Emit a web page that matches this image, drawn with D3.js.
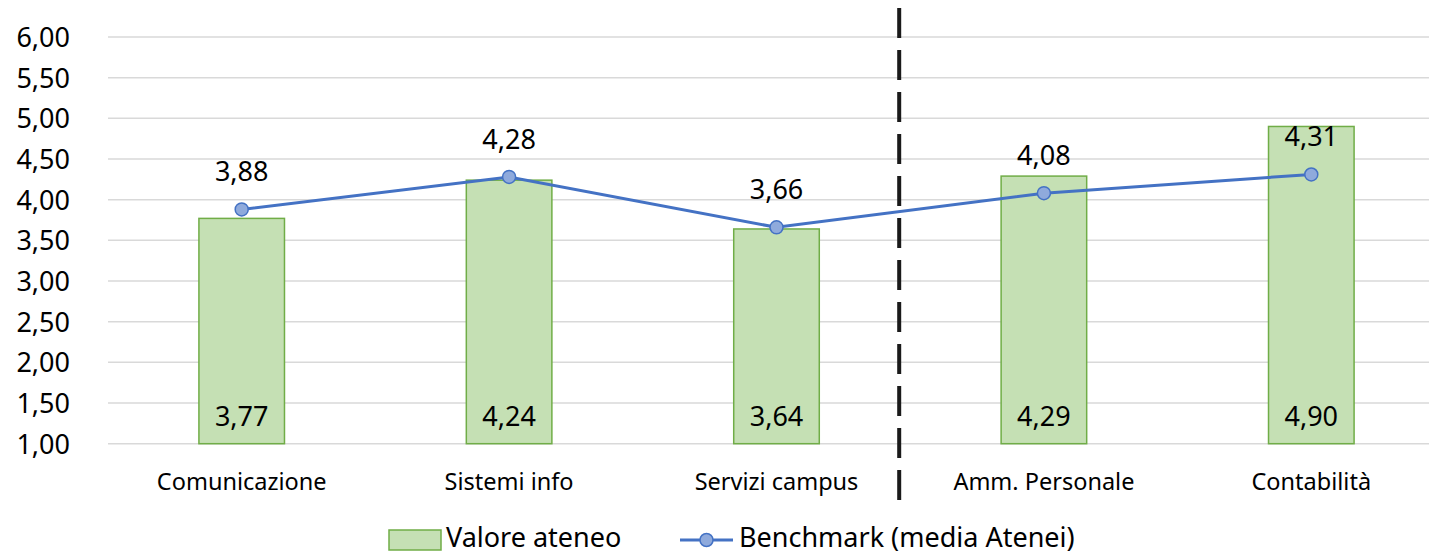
<!DOCTYPE html>
<html><head><meta charset="utf-8">
<script src="https://cdn.jsdelivr.net/npm/d3@7"></script>
<style>html,body{margin:0;padding:0;background:#fff;overflow:hidden}</style>
</head><body>
<svg id="c" width="1429" height="555"></svg>
<script>
const categories = ["Comunicazione","Sistemi info","Servizi campus","Amm. Personale","Contabilità"];
const valoreAteneo = [3.77, 4.24, 3.64, 4.29, 4.90];
const benchmark = [3.88, 4.28, 3.66, 4.08, 4.31];
const yTicks = [1.0,1.5,2.0,2.5,3.0,3.5,4.0,4.5,5.0,5.5,6.0];
const seriesNames = ["Valore ateneo","Benchmark (media Atenei)"];
const separatorAfter = 2; // dashed separator between index 2 and 3

const fmt = v => v.toFixed(2).replace(".", ",");
const font = "'Noto Sans', sans-serif";
const svg = d3.select("#c");

const x = d3.scaleBand().domain(categories).range([108, 1445]).padding(0);
const y = d3.scaleLinear().domain([1, 6]).range([443.7, 37]);
const barW = x.bandwidth() * 0.32;

// gridlines
svg.append("g").selectAll("line").data(yTicks).join("line")
  .attr("x1", 108).attr("x2", 1429)
  .attr("y1", d => y(d)).attr("y2", d => y(d))
  .attr("stroke", "#d9d9d9").attr("stroke-width", 1.5);

// y axis labels
const yAxis = d3.axisLeft(y).tickValues(yTicks).tickFormat(fmt).tickSize(0).tickPadding(0);
const ya = svg.append("g").attr("transform", "translate(70,0)").call(yAxis);
ya.select(".domain").remove();
ya.selectAll("text").attr("font-family", font).attr("font-size", 27).attr("fill", "#000").attr("dy", "0.35em");

// bars
svg.append("g").selectAll("rect").data(valoreAteneo).join("rect")
  .attr("x", (d,i) => x(categories[i]) + x.bandwidth()/2 - barW/2)
  .attr("width", barW)
  .attr("y", d => y(d))
  .attr("height", d => y(1) - y(d))
  .attr("fill", "#C5E0B4").attr("stroke", "#70AD47").attr("stroke-width", 1.5);

// bar labels
svg.append("g").selectAll("text").data(valoreAteneo).join("text")
  .attr("x", (d,i) => x(categories[i]) + x.bandwidth()/2)
  .attr("y", y(1) - 18)
  .attr("text-anchor", "middle")
  .attr("font-family", font).attr("font-size", 27).attr("fill", "#000")
  .text(fmt);

// x axis category labels
const xAxis = d3.axisBottom(x).tickSize(0).tickPadding(0);
const xa = svg.append("g").attr("transform", `translate(0,${y(1)})`).call(xAxis);
xa.select(".domain").remove();
xa.selectAll("text").attr("font-family", font).attr("font-size", 23.5).attr("fill", "#000").attr("dy", 0).attr("y", 46);

// dashed separator
const sepX = x(categories[separatorAfter + 1]) - 11;
svg.append("line").attr("x1", sepX).attr("x2", sepX).attr("y1", 8).attr("y2", 511)
  .attr("stroke", "#1a1a1a").attr("stroke-width", 4).attr("stroke-dasharray", "30,12");

// benchmark line
const cx = (d,i) => x(categories[i]) + x.bandwidth()/2;
svg.append("path").datum(benchmark)
  .attr("d", d3.line().x(cx).y(d => y(d)))
  .attr("fill", "none").attr("stroke", "#4472C4").attr("stroke-width", 3);
svg.append("g").selectAll("circle").data(benchmark).join("circle")
  .attr("cx", cx).attr("cy", d => y(d)).attr("r", 6.5)
  .attr("fill", "#8FAADC").attr("stroke", "#4472C4").attr("stroke-width", 1.5);
svg.append("g").selectAll("text").data(benchmark).join("text")
  .attr("x", cx).attr("y", d => y(d) - 28)
  .attr("text-anchor", "middle")
  .attr("font-family", font).attr("font-size", 27).attr("fill", "#000")
  .text(fmt);

// legend
const lg = svg.append("g");
lg.append("rect").attr("x", 389).attr("y", 530).attr("width", 52).attr("height", 20)
  .attr("fill", "#C5E0B4").attr("stroke", "#70AD47").attr("stroke-width", 1.5);
lg.append("text").attr("x", 446).attr("y", 538).attr("dy", "0.35em")
  .attr("font-family", font).attr("font-size", 27).attr("fill", "#000").text(seriesNames[0]);
lg.append("line").attr("x1", 680).attr("x2", 733).attr("y1", 540).attr("y2", 540)
  .attr("stroke", "#4472C4").attr("stroke-width", 3);
lg.append("circle").attr("cx", 706.5).attr("cy", 540).attr("r", 6.5)
  .attr("fill", "#8FAADC").attr("stroke", "#4472C4").attr("stroke-width", 1.5);
lg.append("text").attr("x", 739).attr("y", 538).attr("dy", "0.35em")
  .attr("font-family", font).attr("font-size", 27).attr("fill", "#000").text(seriesNames[1]);
</script>
</body></html>
